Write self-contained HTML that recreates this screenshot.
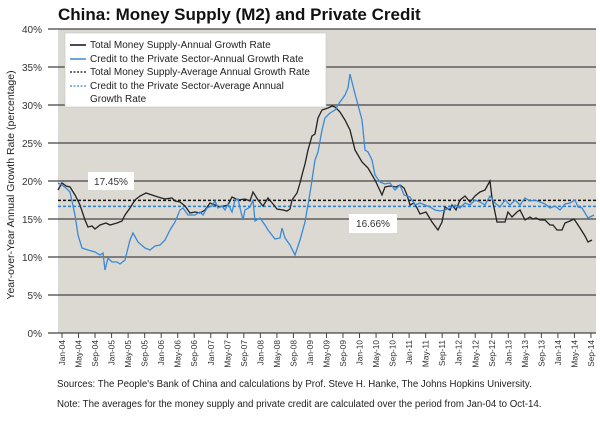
<!DOCTYPE html><html><head><style>
body{margin:0;background:#fff;width:600px;height:418px;overflow:hidden;font-family:"Liberation Sans",sans-serif}
</style></head><body>
<svg width="600" height="418" xmlns="http://www.w3.org/2000/svg" font-family="Liberation Sans, sans-serif">
<text x="58" y="20" font-size="17" font-weight="bold" fill="#111">China: Money Supply (M2) and Private Credit</text>
<rect x="58" y="29" width="538" height="304" fill="#dcd9d3"/>
<g stroke="#444" stroke-width="1.2">
<line x1="48" y1="29" x2="596" y2="29"/><line x1="48" y1="67" x2="596" y2="67"/><line x1="48" y1="105" x2="596" y2="105"/><line x1="48" y1="143" x2="596" y2="143"/><line x1="48" y1="181" x2="596" y2="181"/><line x1="48" y1="219" x2="596" y2="219"/><line x1="48" y1="257" x2="596" y2="257"/><line x1="48" y1="295" x2="596" y2="295"/><line x1="48" y1="333" x2="596" y2="333"/>
</g>
<g font-size="10" fill="#333" text-anchor="end">
<text x="42" y="33">40%</text><text x="42" y="71">35%</text><text x="42" y="109">30%</text><text x="42" y="147">25%</text><text x="42" y="185">20%</text><text x="42" y="223">15%</text><text x="42" y="261">10%</text><text x="42" y="299">5%</text><text x="42" y="337">0%</text>
</g>
<text transform="translate(14,185) rotate(-90)" font-size="10.5" fill="#222" text-anchor="middle">Year-over-Year Annual Growth Rate (percentage)</text>
<line x1="58" y1="200.4" x2="596" y2="200.4" stroke="#111" stroke-width="1.5" stroke-dasharray="3,2"/>
<line x1="58" y1="206.4" x2="596" y2="206.4" stroke="#2a7fd4" stroke-width="1.5" stroke-dasharray="3,2"/>
<polyline fill="none" stroke="#222" stroke-width="1.3" points="58,190 62,183 66,186 70,187 75,195 80,205 85,220 88,227 92,226 95,229 100,225 106,223 110,225 117,223 122,221 125,215 130,208 135,200 140,196 146,193 152,195 158,197 165,199 172,198 175,201 180,202 185,206 190,213 195,212 200,213 205,210 210,203 215,205 220,207 228,205 232,197 238,200 245,199 250,201 253,192 258,200 263,206 268,198 273,204 277,209 283,210 287,211 290,209 292,200 297,193 300,183 302,175 305,164 308,150 312,136 315,134 318,118 322,110 328,108 332,106 335,107 340,112 345,120 350,130 355,150 362,162 368,168 375,180 382,195 385,187 390,186 396,187 400,185 404,188 407,195 410,205 414,203 417,208 420,214 426,212 432,222 438,230 442,222 445,207 450,210 452,205 456,210 460,200 465,196 470,202 475,196 480,192 485,190 490,181 492,198 497,222 505,222 508,212 512,217 517,212 520,210 525,220 530,217 533,219 536,218 540,220 545,220 550,225 553,225 557,230 562,230 565,223 570,221 574,219 576,222 580,228 585,236 588,242 592,240"/>
<polyline fill="none" stroke="#3a8ad6" stroke-width="1.3" points="58,183 62,185 66,188 70,192 75,215 78,235 82,248 88,250 95,252 100,255 103,253 105,270 108,258 112,262 117,262 120,264 125,260 130,240 133,233 138,242 145,248 150,250 155,246 160,245 165,240 170,230 175,222 180,210 183,208 188,215 195,215 200,212 203,215 207,208 212,206 215,201 218,208 222,206 225,210 228,204 232,212 235,200 238,199 240,208 243,220 245,210 250,207 253,200 255,221 260,218 265,225 268,230 275,239 280,238 282,228 285,238 290,245 295,255 300,240 305,222 310,193 312,180 315,160 318,152 322,130 325,118 330,113 335,110 340,102 345,95 348,88 350,74 354,90 358,105 362,120 365,150 368,152 372,160 375,175 380,182 385,184 390,183 395,190 400,185 404,195 410,197 415,205 420,203 425,205 430,207 435,210 440,211 445,210 450,208 455,205 460,208 465,203 470,205 475,200 480,202 485,205 490,196 495,203 500,207 505,200 510,205 515,200 520,205 525,198 530,201 535,200 540,202 545,204 550,208 555,206 560,210 565,204 570,203 575,200 578,207 582,208 588,218 594,215"/>
<rect x="88" y="172" width="46" height="18" fill="#fff"/>
<text x="111" y="185" font-size="10" fill="#333" text-anchor="middle">17.45%</text>
<rect x="349" y="214" width="48" height="19" fill="#fff"/>
<text x="373" y="227" font-size="10" fill="#333" text-anchor="middle">16.66%</text>
<rect x="65" y="33" width="261" height="74" fill="#fff" stroke="#bbb" stroke-width="0.5"/>
<g font-size="10" fill="#222">
<line x1="70" y1="45" x2="86" y2="45" stroke="#111" stroke-width="1.5"/><text x="90" y="48">Total Money Supply-Annual Growth Rate</text>
<line x1="70" y1="59" x2="86" y2="59" stroke="#3a8ad6" stroke-width="1.5"/><text x="90" y="62">Credit to the Private Sector-Annual Growth Rate</text>
<line x1="70" y1="72" x2="86" y2="72" stroke="#111" stroke-width="1.2" stroke-dasharray="2,1.5"/><text x="90" y="75">Total Money Supply-Average Annual Growth Rate</text>
<line x1="70" y1="86" x2="86" y2="86" stroke="#3a8ad6" stroke-width="1.2" stroke-dasharray="2,1.5"/><text x="90" y="89">Credit to the Private Sector-Average Annual</text>
<text x="90" y="102">Growth Rate</text>
</g>
<g stroke="#444">
<line x1="62" y1="333" x2="62" y2="338"/><line x1="78.53" y1="333" x2="78.53" y2="338"/><line x1="95.06" y1="333" x2="95.06" y2="338"/><line x1="111.59" y1="333" x2="111.59" y2="338"/><line x1="128.12" y1="333" x2="128.12" y2="338"/><line x1="144.65" y1="333" x2="144.65" y2="338"/><line x1="161.18" y1="333" x2="161.18" y2="338"/><line x1="177.71" y1="333" x2="177.71" y2="338"/><line x1="194.24" y1="333" x2="194.24" y2="338"/><line x1="210.77" y1="333" x2="210.77" y2="338"/><line x1="227.3" y1="333" x2="227.3" y2="338"/><line x1="243.83" y1="333" x2="243.83" y2="338"/><line x1="260.36" y1="333" x2="260.36" y2="338"/><line x1="276.89" y1="333" x2="276.89" y2="338"/><line x1="293.42" y1="333" x2="293.42" y2="338"/><line x1="309.95" y1="333" x2="309.95" y2="338"/><line x1="326.48" y1="333" x2="326.48" y2="338"/><line x1="343.01" y1="333" x2="343.01" y2="338"/><line x1="359.54" y1="333" x2="359.54" y2="338"/><line x1="376.07" y1="333" x2="376.07" y2="338"/><line x1="392.6" y1="333" x2="392.6" y2="338"/><line x1="409.13" y1="333" x2="409.13" y2="338"/><line x1="425.66" y1="333" x2="425.66" y2="338"/><line x1="442.19" y1="333" x2="442.19" y2="338"/><line x1="458.72" y1="333" x2="458.72" y2="338"/><line x1="475.25" y1="333" x2="475.25" y2="338"/><line x1="491.78" y1="333" x2="491.78" y2="338"/><line x1="508.31" y1="333" x2="508.31" y2="338"/><line x1="524.84" y1="333" x2="524.84" y2="338"/><line x1="541.37" y1="333" x2="541.37" y2="338"/><line x1="557.9" y1="333" x2="557.9" y2="338"/><line x1="574.43" y1="333" x2="574.43" y2="338"/><line x1="590.96" y1="333" x2="590.96" y2="338"/>
</g>
<g font-size="8.3" fill="#333" text-anchor="end">
<text transform="translate(65,340) rotate(-90)">Jan-04</text>
<text transform="translate(81.53,340) rotate(-90)">May-04</text>
<text transform="translate(98.06,340) rotate(-90)">Sep-04</text>
<text transform="translate(114.59,340) rotate(-90)">Jan-05</text>
<text transform="translate(131.12,340) rotate(-90)">May-05</text>
<text transform="translate(147.65,340) rotate(-90)">Sep-05</text>
<text transform="translate(164.18,340) rotate(-90)">Jan-06</text>
<text transform="translate(180.71,340) rotate(-90)">May-06</text>
<text transform="translate(197.24,340) rotate(-90)">Sep-06</text>
<text transform="translate(213.77,340) rotate(-90)">Jan-07</text>
<text transform="translate(230.3,340) rotate(-90)">May-07</text>
<text transform="translate(246.83,340) rotate(-90)">Sep-07</text>
<text transform="translate(263.36,340) rotate(-90)">Jan-08</text>
<text transform="translate(279.89,340) rotate(-90)">May-08</text>
<text transform="translate(296.42,340) rotate(-90)">Sep-08</text>
<text transform="translate(312.95,340) rotate(-90)">Jan-09</text>
<text transform="translate(329.48,340) rotate(-90)">May-09</text>
<text transform="translate(346.01,340) rotate(-90)">Sep-09</text>
<text transform="translate(362.54,340) rotate(-90)">Jan-10</text>
<text transform="translate(379.07,340) rotate(-90)">May-10</text>
<text transform="translate(395.6,340) rotate(-90)">Sep-10</text>
<text transform="translate(412.13,340) rotate(-90)">Jan-11</text>
<text transform="translate(428.66,340) rotate(-90)">May-11</text>
<text transform="translate(445.19,340) rotate(-90)">Sep-11</text>
<text transform="translate(461.72,340) rotate(-90)">Jan-12</text>
<text transform="translate(478.25,340) rotate(-90)">May-12</text>
<text transform="translate(494.78,340) rotate(-90)">Sep-12</text>
<text transform="translate(511.31,340) rotate(-90)">Jan-13</text>
<text transform="translate(527.84,340) rotate(-90)">May-13</text>
<text transform="translate(544.37,340) rotate(-90)">Sep-13</text>
<text transform="translate(560.9,340) rotate(-90)">Jan-14</text>
<text transform="translate(577.43,340) rotate(-90)">May-14</text>
<text transform="translate(593.96,340) rotate(-90)">Sep-14</text>
</g>
<g font-size="9.7" fill="#222">
<text x="57" y="387">Sources: The People's Bank of China and calculations by Prof. Steve H. Hanke,  The Johns Hopkins University.</text>
<text x="57" y="407">Note: The averages for the money supply and private credit are calculated over the period from Jan-04 to Oct-14.</text>
</g>
</svg>
</body></html>
